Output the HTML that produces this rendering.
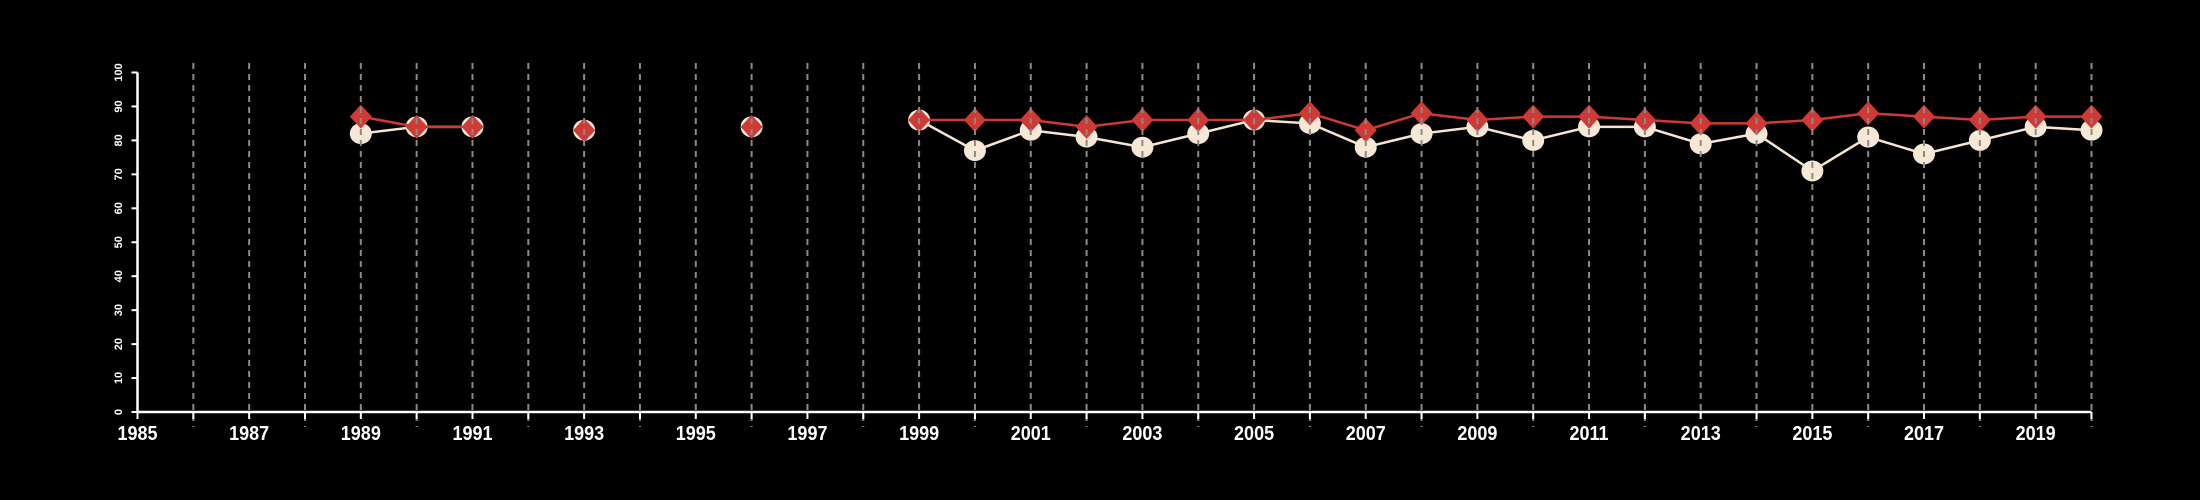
<!DOCTYPE html>
<html><head><meta charset="utf-8"><style>
html,body{margin:0;padding:0;background:#000;}
svg{display:block;}
text{font-family:"Liberation Sans",sans-serif;fill:#fff;}
</style></head><body>
<svg id="chart" width="2200" height="500" viewBox="0 0 2200 500" xmlns="http://www.w3.org/2000/svg">
<rect width="2200" height="500" fill="#000"/>
<g id="marks"></g>
<g id="grid"></g>
<g id="axes"></g>
</svg>
<script>
const years = [1989,1990,1991,1993,1996,1999,2000,2001,2002,2003,2004,2005,2006,2007,2008,2009,2010,2011,2012,2013,2014,2015,2016,2017,2018,2019,2020];
const seriesCream = [82,84,84,83,84,86,77,83,81,78,82,86,85,78,82,84,80,84,84,79,82,71,81,76,80,84,83];
const seriesRed = [87,84,84,83,84,86,86,86,84,86,86,86,88,83,88,86,87,87,86,85,85,86,88,87,86,87,87];
const yTicks = [0,10,20,30,40,50,60,70,80,90,100];
const xLabels = [1985,1987,1989,1991,1993,1995,1997,1999,2001,2003,2005,2007,2009,2011,2013,2015,2017,2019];

const NS="http://www.w3.org/2000/svg";
const X0=137.5,X1=2091.5,Y0=412,Y1=72.5;
const xs=y=>X0+(y-1985)*(X1-X0)/35;
const ys=v=>Y0-v*(Y0-Y1)/100;
function mk(tag,attrs,parent){const e=document.createElementNS(NS,tag);for(const k in attrs)e.setAttribute(k,attrs[k]);parent.appendChild(e);return e;}
const grid=document.getElementById('grid'),axes=document.getElementById('axes'),marks=document.getElementById('marks');

for(let yr=1986;yr<=2020;yr++){
  const odd=(yr%2===1);
  const l=mk('line',{x1:xs(yr),x2:xs(yr),y1:63,y2:odd?Y0:427,stroke:'#8a8a8a','stroke-width':2,'stroke-dasharray':'6,5'},grid);
  
  
}
let a=mk('line',{x1:X0,x2:X1,y1:Y0,y2:Y0,stroke:'#fff','stroke-width':2.5},axes);


a=mk('line',{x1:X0,x2:X0,y1:Y0,y2:Y1,stroke:'#fff','stroke-width':2.5},axes);


for(let yr=1985;yr<=2020;yr++){
  const t=mk('line',{x1:xs(yr),x2:xs(yr),y1:Y0,y2:Y0+7,stroke:'#fff','stroke-width':2},axes);
  
  
}
xLabels.forEach(v=>{
  const t=mk('text',{x:0,y:0,'text-anchor':'middle','font-size':20,'font-weight':'bold',transform:`translate(${xs(v)},440) scale(0.9,1)`},axes);
  t.textContent=v;
  
  
});
yTicks.forEach(v=>{
  const t=mk('line',{x1:X0-6,x2:X0,y1:ys(v),y2:ys(v),stroke:'#fff','stroke-width':2},axes);
  
  
  const l=mk('text',{x:0,y:0,'text-anchor':'middle','font-size':11,'font-weight':'bold',transform:`translate(122,${ys(v)}) rotate(-90)`},axes);
  l.textContent=v;
  
  
});
function segments(vals){
  const segs=[];let cur=[];
  years.forEach((yr,i)=>{
    if(i>0&&yr-years[i-1]!==1){if(cur.length>1)segs.push(cur);cur=[];}
    cur.push([xs(yr),ys(vals[i])]);
  });
  if(cur.length>1)segs.push(cur);
  return segs;
}
segments(seriesCream).forEach(s=>{
  const p=mk('polyline',{points:s.map(q=>q.join(',')).join(' '),fill:'none',stroke:'#f5e6d3','stroke-width':2.5},marks);
  
  
});
years.forEach((yr,i)=>{
  const c=mk('ellipse',{cx:xs(yr),cy:ys(seriesCream[i]),rx:11,ry:10.5,fill:'#f7e8d6'},marks);
  
  
});
segments(seriesRed).forEach(s=>{
  const p=mk('polyline',{points:s.map(q=>q.join(',')).join(' '),fill:'none',stroke:'#d03a35','stroke-width':2.5},marks);
  
  
});
years.forEach((yr,i)=>{
  const x=xs(yr),y=ys(seriesRed[i]);
  const d=mk('polygon',{points:`${x},${y-12} ${x+11},${y} ${x},${y+12} ${x-11},${y}`,fill:'#d03a35'},marks);
  
  
});
</script>
</body></html>
